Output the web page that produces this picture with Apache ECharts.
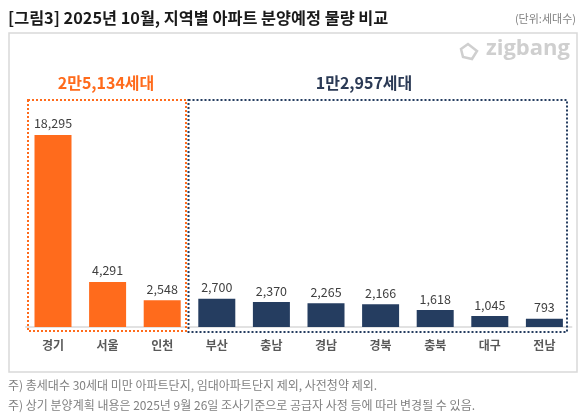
<!DOCTYPE html>
<html>
<head>
<meta charset="utf-8">
<script src="https://cdn.jsdelivr.net/npm/echarts@6/dist/echarts.min.js"></script>
<style>
html,body{margin:0;padding:0;background:#fff;}
#c{width:580px;height:419px;}
</style>
</head>
<body>
<div id="c"></div>
<script>
// ---- data ----
const categories = ['경기','서울','인천','부산','충남','경남','경북','충북','대구','전남'];
const values = [18295, 4291, 2548, 2700, 2370, 2265, 2166, 1618, 1045, 793];
const groupOf = ['metro','metro','metro','local','local','local','local','local','local','local'];
const groupTotals = ['2만5,134세대', '1만2,957세대'];
const titleText = '[그림3] 2025년 10월, 지역별 아파트 분양예정 물량 비교';
const unitText = '(단위:세대수)';
const notes = [
  '주) 총세대수 30세대 미만 아파트단지, 임대아파트단지 제외, 사전청약 제외.',
  '주) 상기 분양계획 내용은 2025년 9월 26일 조사기준으로 공급자 사정 등에 따라 변경될 수 있음.'
];

const ORANGE = '#FF6B1C';
const NAVY = '#253D60';
const FONT = '"Noto Sans CJK KR", "Noto Sans", sans-serif';

const chart = echarts.init(document.getElementById('c'), null, {renderer:'canvas'});

const option = {
  backgroundColor: '#fff',
  animation: false,
  textStyle: {fontFamily: FONT},
  grid: {left: 25.7, right: 8.3, top: 117, bottom: 92},
  xAxis: {
    type: 'category',
    data: categories,
    axisLine: {show: true, lineStyle: {color: '#d9d9d9', width: 1.5}},
    axisTick: {show: false},
    axisLabel: {color: '#595959', fontSize: 12, fontWeight: 'bold', margin: 12, fontFamily: FONT}
  },
  yAxis: {
    type: 'value', min: 0, max: 20000,
    show: false,
    splitLine: {show: false}
  },
  series: [{
    type: 'bar',
    barWidth: 37,
    data: values.map((v, i) => ({
      value: v,
      itemStyle: {color: groupOf[i] === 'metro' ? ORANGE : NAVY}
    })),
    label: {
      show: true, position: 'top', distance: 5,
      color: '#404040', fontSize: 12.5, fontFamily: FONT,
      formatter: p => p.value.toLocaleString('en-US')
    }
  }],
  graphic: [
    // panel border
    {type: 'rect', shape: {x: 9, y: 33, width: 568, height: 339},
     style: {fill: 'none', stroke: '#d9d9d9', lineWidth: 1.5}, z: 0},
    // title
    {type: 'text', left: 8, top: 10,
     style: {text: titleText, fill: '#1a1a1a', font: 'bold 16.3px ' + FONT}},
    {type: 'text', right: 4, top: 13,
     style: {text: unitText, fill: '#808080', font: '11px ' + FONT}},
    // zigbang watermark
    {type: 'text', left: 486, top: 38,
     style: {text: 'zigbang', fill: '#cfcfcf', font: 'bold 22px "Open Sans", sans-serif'}},
    {type: 'polygon', shape: {points: [[461,49],[468,44],[477,51],[472,59],[463,57]]},
     style: {fill: 'none', stroke: '#cfcfcf', lineWidth: 2.5}},
    // group boxes
    {type: 'rect', shape: {x: 28, y: 100, width: 158, height: 231},
     style: {fill: 'none', stroke: ORANGE, lineWidth: 2, lineDash: [2, 2]}, z: 10},
    {type: 'rect', shape: {x: 188.5, y: 100, width: 378.5, height: 232},
     style: {fill: 'none', stroke: NAVY, lineWidth: 2, lineDash: [2, 2]}, z: 10},
    // group totals
    {type: 'text', x: 106, y: 83,
     style: {text: groupTotals[0], fill: ORANGE, font: 'bold 16px ' + FONT, align: 'center', verticalAlign: 'middle'}},
    {type: 'text', x: 364, y: 83,
     style: {text: groupTotals[1], fill: '#2B3A55', font: 'bold 16px ' + FONT, align: 'center', verticalAlign: 'middle'}},
    // notes
    {type: 'text', left: 8, top: 379,
     style: {text: notes[0], fill: '#808080', font: '12px ' + FONT}},
    {type: 'text', left: 8, top: 399,
     style: {text: notes[1], fill: '#808080', font: '12px ' + FONT}}
  ]
};
chart.setOption(option);
</script>
</body>
</html>
